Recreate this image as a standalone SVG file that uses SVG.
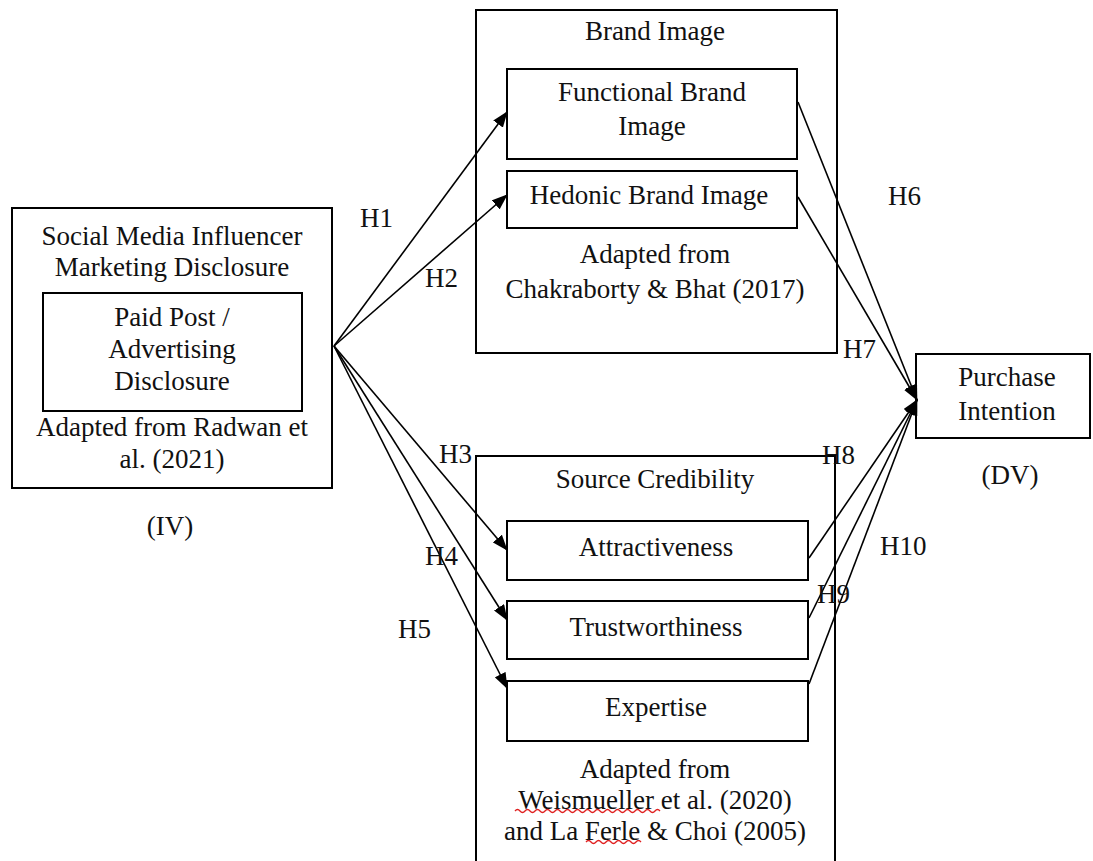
<svg xmlns="http://www.w3.org/2000/svg" width="1093" height="861" viewBox="0 0 1093 861">
<style>
.box{fill:none;stroke:#000;stroke-width:2}
.t{font-family:"Liberation Serif","Times New Roman",serif;font-size:27px;fill:#111;text-anchor:middle}
.l{font-family:"Liberation Serif","Times New Roman",serif;font-size:27px;fill:#111}
.c{fill:none;stroke:#000;stroke-width:1.6}
.sq{fill:none;stroke:#e02020;stroke-width:1.3}
</style>
<defs>
<marker id="ah" markerUnits="userSpaceOnUse" markerWidth="16" markerHeight="12" refX="15" refY="6" orient="auto">
<path d="M0,0 L16,6 L0,12 Z" fill="#000"/>
</marker>
</defs>
<rect width="1093" height="861" fill="#fff"/>

<g id="iv">
<rect class="box" x="12" y="208" width="320" height="280"/>
<text class="t" x="172" y="245">Social Media Influencer</text>
<text class="t" x="172" y="276">Marketing Disclosure</text>
<rect class="box" x="43" y="293" width="259" height="118"/>
<text class="t" x="172" y="326">Paid Post /</text>
<text class="t" x="172" y="358">Advertising</text>
<text class="t" x="172" y="390">Disclosure</text>
<text class="t" x="172" y="436">Adapted from Radwan et</text>
<text class="t" x="172" y="468">al. (2021)</text>
<text class="t" x="170" y="535">(IV)</text>
</g>

<g id="brand-image">
<rect class="box" x="476" y="10" width="361" height="343"/>
<text class="t" x="655" y="40">Brand Image</text>
<text class="t" x="655" y="263">Adapted from</text>
<text class="t" x="655" y="298">Chakraborty &amp; Bhat (2017)</text>
</g>
<g id="functional">
<rect class="box" x="507" y="69" width="290" height="90"/>
<text class="t" x="652" y="101">Functional Brand</text>
<text class="t" x="652" y="135">Image</text>
</g>
<g id="hedonic">
<rect class="box" x="507" y="171" width="290" height="57"/>
<text class="t" x="649" y="204">Hedonic Brand Image</text>
</g>

<g id="source-credibility">
<path class="box" d="M476,875 L476,456 L835,456 L835,875"/>
<text class="t" x="655" y="488">Source Credibility</text>
<text class="t" x="655" y="778">Adapted from</text>
<text class="t" x="655" y="809">Weismueller et al. (2020)</text>
<text class="t" x="655" y="840">and La Ferle &amp; Choi (2005)</text>
<path class="sq" d="M515,811 q2.5,-3 5,0 t5,0 t5,0 t5,0 t5,0 t5,0 t5,0 t5,0 t5,0 t5,0 t5,0 t5,0 t5,0 t5,0 t5,0 t5,0 t5,0 t5,0 t5,0 t5,0 t5,0 t5,0 t5,0 t5,0 t5,0 t5,0 t5,0 t5,0 t5,0"/>
<path class="sq" d="M586,842 q2.5,-3 5,0 t5,0 t5,0 t5,0 t5,0 t5,0 t5,0 t5,0 t5,0 t5,0 t5,0"/>
</g>
<g id="attractiveness">
<rect class="box" x="507" y="521" width="301" height="59"/>
<text class="t" x="656" y="556">Attractiveness</text>
</g>
<g id="trustworthiness">
<rect class="box" x="507" y="601" width="301" height="58"/>
<text class="t" x="656" y="636">Trustworthiness</text>
</g>
<g id="expertise">
<rect class="box" x="507" y="681" width="301" height="60"/>
<text class="t" x="656" y="716">Expertise</text>
</g>

<g id="purchase-intention">
<rect class="box" x="916" y="354" width="174" height="84"/>
<text class="t" x="1007" y="386">Purchase</text>
<text class="t" x="1007" y="420">Intention</text>
<text class="t" x="1010" y="484">(DV)</text>
</g>

<g id="connectors">
<line class="c" x1="334" y1="346" x2="507" y2="112" marker-end="url(#ah)"/>
<line class="c" x1="334" y1="346" x2="507" y2="195" marker-end="url(#ah)"/>
<line class="c" x1="334" y1="346" x2="507" y2="550" marker-end="url(#ah)"/>
<line class="c" x1="334" y1="346" x2="507" y2="620" marker-end="url(#ah)"/>
<line class="c" x1="334" y1="346" x2="507" y2="688" marker-end="url(#ah)"/>
<line class="c" x1="798" y1="102" x2="917" y2="400" marker-end="url(#ah)"/>
<line class="c" x1="798" y1="197" x2="917" y2="400" marker-end="url(#ah)"/>
<line class="c" x1="809" y1="558" x2="917" y2="400" marker-end="url(#ah)"/>
<line class="c" x1="809" y1="618" x2="917" y2="400" marker-end="url(#ah)"/>
<line class="c" x1="809" y1="684" x2="917" y2="400" marker-end="url(#ah)"/>
<text class="l" x="360" y="227">H1</text>
<text class="l" x="425" y="287">H2</text>
<text class="l" x="439" y="463">H3</text>
<text class="l" x="425" y="565">H4</text>
<text class="l" x="398" y="638">H5</text>
<text class="l" x="888" y="205">H6</text>
<text class="l" x="843" y="358">H7</text>
<text class="l" x="822" y="464">H8</text>
<text class="l" x="817" y="603">H9</text>
<text class="l" x="880" y="555">H10</text>
</g>
</svg>
